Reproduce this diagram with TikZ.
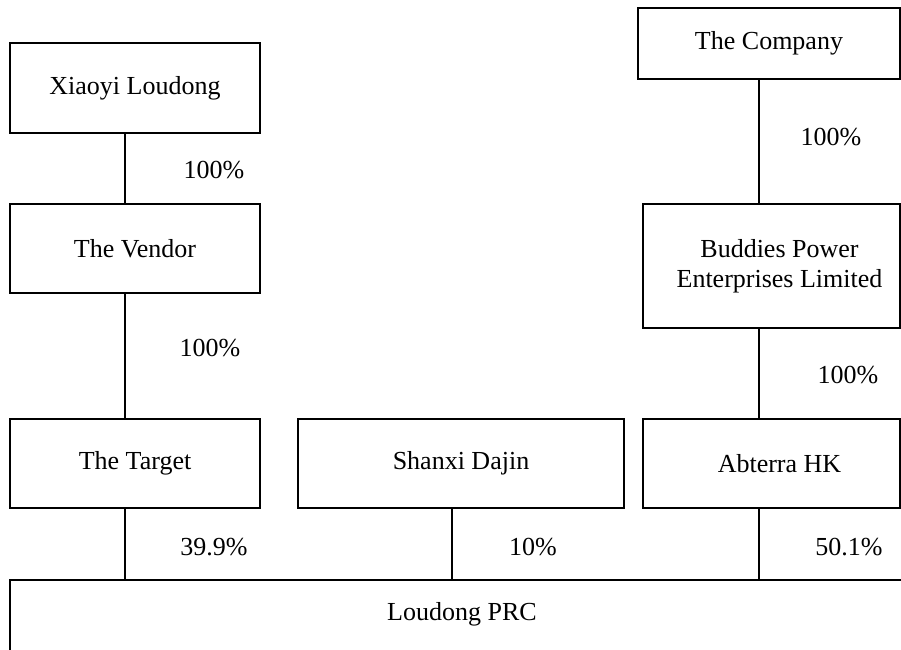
\documentclass[tikz,border=0pt]{standalone}
\usepackage{fontspec}
\setmainfont{Liberation Serif}
\begin{document}
\begin{tikzpicture}[x=0.5pt,y=-0.5pt,line width=0.55pt,
  box/.style={draw,rectangle,inner sep=0pt,align=center,font=\fontsize{13}{15}\selectfont},
  pct/.style={inner sep=0pt,font=\fontsize{13}{15}\selectfont},
  link/.style={draw}]
\useasboundingbox (0,0) rectangle (901,649);
% boxes
\node[box,minimum width=125pt,minimum height=45pt] (xiaoyi) at (135,88) {Xiaoyi Loudong};
\node[box,minimum width=125pt,minimum height=44.5pt] (vendor) at (135,248.5) {The Vendor};
\node[box,minimum width=125pt,minimum height=44.5pt] (target) at (135,463.5) {The Target};
\node[box,minimum width=163pt,minimum height=44.5pt] (shanxi) at (461,463.5) {Shanxi Dajin};
\node[box,minimum width=128.5pt,minimum height=44.5pt] (abterra) at (771.5,463.5) {\hspace*{8pt}Abterra HK};
\node[box,minimum width=131pt,minimum height=35.5pt] (company) at (769,43.5) {The Company};
\node[box,minimum width=128.5pt,minimum height=62pt] (buddies) at (771.5,266) {\hspace*{8pt}Buddies Power\\\hspace*{8pt}Enterprises Limited};
% Loudong PRC (open on right and bottom)
\node[pct] (loudong) at (462,614) {Loudong PRC};
\coordinate (ltop) at (10,580);
\coordinate (lbot) at (10,652);
\coordinate (lright) at (905,580);
\draw (lbot) -- (ltop) -- (lright);
% connectors
\draw[link] ([xshift=-5pt]xiaoyi.south) -- ([xshift=-5pt]vendor.north);
\draw[link] ([xshift=-5pt]vendor.south) -- ([xshift=-5pt]target.north);
\draw[link] ([xshift=-5pt]company.south) -- ([xshift=-6.25pt]buddies.north);
\draw[link] ([xshift=-6.25pt]buddies.south) -- ([xshift=-6.25pt]abterra.north);
\draw[link] ([xshift=-5pt]target.south) -- ([xshift=-5pt]target.south |- ltop);
\draw[link] ([xshift=-4.5pt]shanxi.south) -- ([xshift=-4.5pt]shanxi.south |- ltop);
\draw[link] ([xshift=-6.25pt]abterra.south) -- ([xshift=-6.25pt]abterra.south |- ltop);
% percentages
\node[pct] (p1) at (214,170) {100\%};
\node[pct] (p2) at (210,348) {100\%};
\node[pct] (p3) at (831,137) {100\%};
\node[pct] (p4) at (848,375) {100\%};
\node[pct] (p5) at (214,547) {39.9\%};
\node[pct] (p6) at (533,547) {10\%};
\node[pct] (p7) at (849,547) {50.1\%};
\end{tikzpicture}
\end{document}
